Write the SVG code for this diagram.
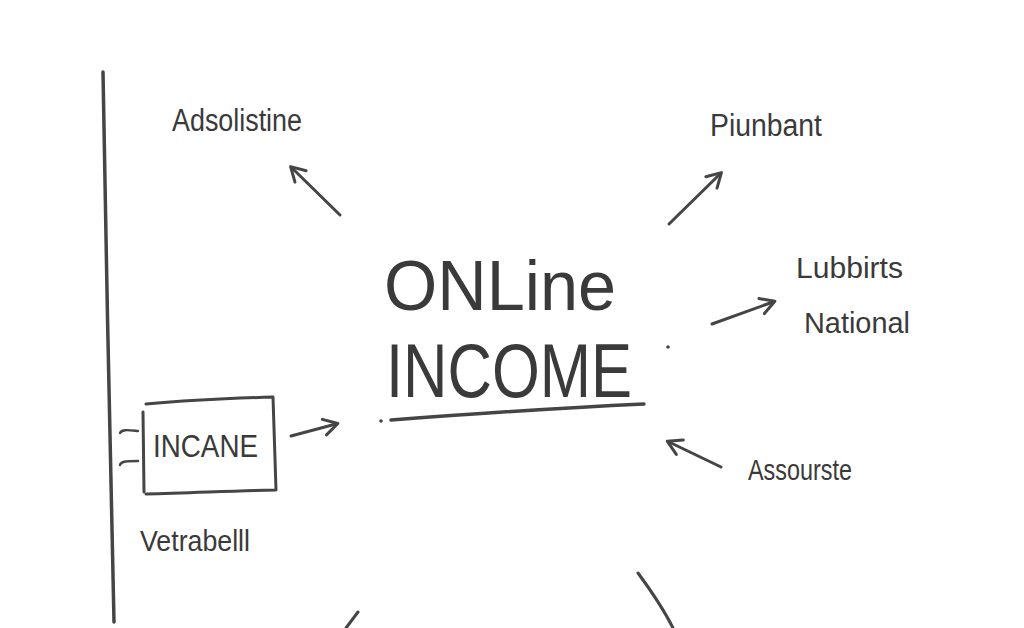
<svg xmlns="http://www.w3.org/2000/svg" width="1024" height="628" viewBox="0 0 1024 628">
<defs>
<style>
.t{font-family:"Liberation Sans","DejaVu Sans",sans-serif;fill:#3a3a3a;}
.s{fill:none;stroke:#454545;stroke-linecap:round;stroke-linejoin:round;}
.c{stroke-width:3;}
</style>
<marker id="ah" viewBox="0 0 20 20" refX="14" refY="10" markerWidth="20" markerHeight="20" markerUnits="userSpaceOnUse" orient="auto">
<path d="M2,2 L16,10 L2,18" fill="none" stroke="#454545" stroke-width="3" stroke-linecap="round" stroke-linejoin="round"/>
</marker>
</defs>
<rect width="1024" height="628" fill="#ffffff"/>
<g id="frame">
<path class="s" d="M103,72 C106,250 110,450 114,622" stroke-width="3.5"/>
<path class="s" d="M358,612 L346,628" stroke-width="3"/>
<path class="s" d="M638,573 C652,592 664,610 673,628" stroke-width="3"/>
</g>
<g id="center">
<text class="t" x="384" y="310" font-size="70" textLength="232" lengthAdjust="spacingAndGlyphs">ONLine</text>
<text class="t" x="386" y="397" font-size="76" textLength="246" lengthAdjust="spacingAndGlyphs">INCOME</text>
<path class="s" d="M391,420 C470,414 560,408 644,404" stroke-width="3.5"/>
<circle cx="381" cy="421" r="1.8" fill="#454545"/>
<circle cx="668" cy="347" r="1.8" fill="#454545"/>
</g>
<g id="adsolistine">
<text class="t" x="172" y="131" font-size="31" textLength="130" lengthAdjust="spacingAndGlyphs">Adsolistine</text>
</g>
<g id="piunbant">
<text class="t" x="710" y="136" font-size="31" textLength="112" lengthAdjust="spacingAndGlyphs">Piunbant</text>
</g>
<g id="lubbirts">
<text class="t" x="796" y="278" font-size="30" textLength="107" lengthAdjust="spacingAndGlyphs">Lubbirts</text>
<text class="t" x="804" y="333" font-size="30" textLength="106" lengthAdjust="spacingAndGlyphs">National</text>
</g>
<g id="assourste">
<text class="t" x="748" y="480" font-size="30" textLength="104" lengthAdjust="spacingAndGlyphs">Assourste</text>
</g>
<g id="incane">
<path class="s" d="M146,404 C190,400 240,398 273,397 L276,490 C230,491 190,493 146,494" stroke-width="3"/>
<path class="s" d="M143,412 L144,492" stroke-width="3"/>
<text class="t" x="153" y="457" font-size="32" textLength="105" lengthAdjust="spacingAndGlyphs">INCANE</text>
<path class="s" d="M120,433 C122,429 128,430 138,431" stroke-width="2.5"/>
<path class="s" d="M120,465 C121,461 128,461 138,461" stroke-width="2.5"/>
</g>
<g id="vetrabelll">
<text class="t" x="140" y="551" font-size="30" textLength="110" lengthAdjust="spacingAndGlyphs">Vetrabelll</text>
</g>
<g id="connectors">
<path class="s c" d="M340,215 L292,168" marker-end="url(#ah)"/>
<path class="s c" d="M669,224 L720,174" marker-end="url(#ah)"/>
<path class="s c" d="M712,324 L773,302" marker-end="url(#ah)"/>
<path class="s c" d="M721,467 L669,442" marker-end="url(#ah)"/>
<path class="s c" d="M291,436 L336,424" marker-end="url(#ah)"/>
</g>
</svg>
